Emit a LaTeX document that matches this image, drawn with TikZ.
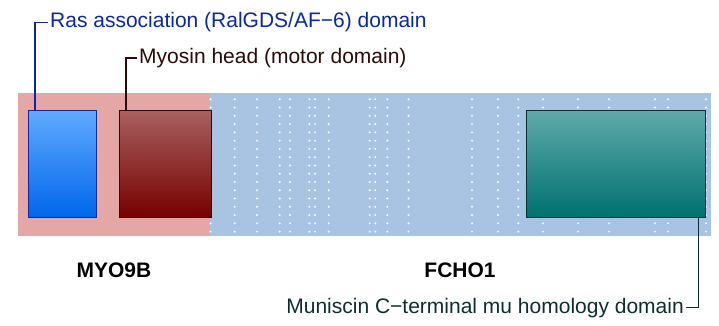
\documentclass[tikz,border=0pt]{standalone}
\usepackage{fontspec}
\setmainfont{Liberation Sans}
\usepackage{xcolor}
\usetikzlibrary{positioning}

\definecolor{myopink}{RGB}{229,166,166}
\definecolor{fchoblue}{RGB}{168,196,226}
\definecolor{rasline}{RGB}{10,40,160}
\definecolor{rastop}{RGB}{96,170,255}
\definecolor{rasbot}{RGB}{0,102,235}
\definecolor{myotop}{RGB}{168,96,96}
\definecolor{myobot}{RGB}{119,0,0}
\definecolor{myoline}{RGB}{42,10,10}
\definecolor{mhdtop}{RGB}{95,170,170}
\definecolor{mhdbot}{RGB}{0,112,112}
\definecolor{mhdline}{RGB}{14,46,46}

\begin{document}
\begin{tikzpicture}[x=1pt, y=-1pt,
    domainbox/.style={draw, line width=1.1pt, inner sep=0pt, anchor=north west},
    domainlabel/.style={inner sep=0pt, font=\fontsize{21}{25}\selectfont},
    genelabel/.style={font=\fontsize{21}{25}\selectfont\bfseries}]
    \useasboundingbox (0,0) rectangle (719,326);

    % gene regions
    \fill [myopink] (18,93) rectangle (210,235.5);
    \fill [fchoblue] (210,93) rectangle (711,235.5);
    \foreach \x in {210.5,234.7,257,279.7,290,309.3,315,328.7,369.7,375.3,387.3,408.5,472,498,518.3,543,578,609,655,668,706}
        \foreach \y in {0,...,16}
            \fill [white] (\x,99.3+8.27*\y) circle (1.1);

    % domains
    \node [domainbox, draw=rasline, top color=rastop, bottom color=rasbot,
           minimum width=68, minimum height=107] (ras) at (28,110) {};
    \node [domainbox, draw=myoline, top color=myotop, bottom color=myobot,
           minimum width=92, minimum height=107] (myo) at (119,110) {};
    \node [domainbox, draw=mhdline, top color=mhdtop, bottom color=mhdbot,
           minimum width=179, minimum height=107] (mhd) at (526,110) {};

    \node [domainlabel, text=rasline, anchor=west] (raslabel) at (50,22.5) {Ras association (RalGDS/AF−6) domain};
    \node [domainlabel, text=myoline, anchor=west] (myolabel) at (139,58) {Myosin head (motor domain)};
    \node [domainlabel, text=mhdline, anchor=east] (mhdlabel) at (684,307.7) {Muniscin C−terminal mu homology domain};

    \draw [rasline, line width=1.1pt] ([xshift=7]ras.north west) |- ([xshift=-2]raslabel.west);
    \draw [myoline, line width=1.1pt] ([xshift=7]myo.north west) |- ([xshift=-2]myolabel.west);
    \draw [mhdline, line width=1.1pt] ([xshift=-8]mhd.south east) |- ([xshift=2]mhdlabel.east);

    \node [genelabel] (myo9b) at (114,270) {MYO9B};
    \node [genelabel] (fcho1) at (460,270) {FCHO1};
\end{tikzpicture}
\end{document}
